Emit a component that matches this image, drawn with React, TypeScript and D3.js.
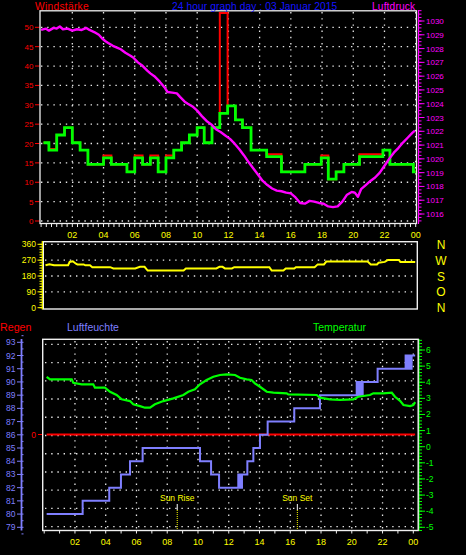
import React from 'react';
import * as d3 from 'd3';

const W = 466, H = 555;
const FONT = '"Liberation Sans", Arial, sans-serif';

// ---------- tick labels ----------
const hourTicks = [2, 4, 6, 8, 10, 12, 14, 16, 18, 20, 22, 24];
const hourLabels = ['02', '04', '06', '08', '10', '12', '14', '16', '18', '20', '22', '00'];
const windTicks = [0, 5, 10, 15, 20, 25, 30, 35, 40, 45, 50];
const pressTicks = [1016, 1017, 1018, 1019, 1020, 1021, 1022, 1023, 1024, 1025, 1026, 1027, 1028, 1029, 1030];
const dirTicks = [0, 90, 180, 270, 360];
const dirLetters = ['N', 'O', 'S', 'W', 'N'];
const humTicks = [79, 80, 81, 82, 83, 84, 85, 86, 87, 88, 89, 90, 91, 92, 93];
const tempTicks = [-5, -4, -3, -2, -1, 0, 1, 2, 3, 4, 5, 6];

// ---------- wind speed / gust (step series) ----------
const windTimes = [0.15, 0.5, 1.0, 1.5, 2.0, 2.5, 3.0, 4.0, 4.5, 5.5, 6.0, 6.5, 7.0, 7.5, 8.0, 8.5, 9.0, 9.5, 10.0, 10.45, 10.95, 11.45, 11.95, 12.45, 12.9, 13.45, 14.45, 15.4, 16.9, 17.95, 18.4, 18.9, 19.4, 20.4, 21.9, 22.35, 23.85, 24.0];
const windValues = [20.2, 18.3, 22.2, 24.1, 20.2, 18.3, 14.6, 16.3, 14.6, 12.7, 16.3, 14.6, 16.3, 12.7, 16.3, 18.3, 20.2, 22.2, 24.1, 20.2, 24.1, 27.8, 29.7, 26.1, 24.1, 18.3, 16.6, 12.7, 14.6, 16.3, 10.8, 12.7, 14.6, 16.6, 18.3, 14.6, 12.7, 12.7];
const gustValues = [20.2, 18.6, 22.2, 24.1, 20.2, 18.3, 14.6, 16.9, 14.6, 12.7, 16.9, 14.6, 16.9, 12.7, 16.9, 18.3, 20.2, 22.2, 24.1, 20.2, 24.1, 53.7, 29.7, 26.1, 24.1, 18.3, 17.2, 12.7, 14.6, 16.9, 10.8, 12.7, 14.6, 17.2, 18.3, 14.6, 12.7, 12.7];

// ---------- pressure ----------
const pressHours = [0.0, 0.3, 0.5, 0.8, 1.0, 1.2, 1.4, 1.7, 2.0, 2.3, 2.6, 2.9, 3.1, 3.4, 3.7, 3.9, 4.1, 4.3, 4.6, 4.9, 5.1, 5.4, 5.7, 5.9, 6.2, 6.5, 6.8, 7.0, 7.3, 7.6, 7.9, 8.1, 8.4, 8.7, 8.9, 9.2, 9.4, 9.7, 10.0, 10.3, 10.6, 10.9, 11.2, 11.5, 11.8, 12.1, 12.4, 12.7, 13.0, 13.3, 13.6, 13.9, 14.2, 14.5, 14.8, 15.1, 15.4, 15.7, 16.0, 16.3, 16.6, 16.9, 17.2, 17.5, 17.8, 18.1, 18.4, 18.7, 19.0, 19.3, 19.6, 19.9, 20.1, 20.3, 20.5, 20.8, 21.1, 21.4, 21.7, 22.0, 22.3, 22.6, 22.9, 23.2, 23.5, 23.8, 23.95];
const pressValues = [1029.35, 1029.45, 1029.3, 1029.5, 1029.45, 1029.6, 1029.4, 1029.45, 1029.3, 1029.4, 1029.35, 1029.5, 1029.35, 1029.2, 1029.0, 1028.75, 1028.55, 1028.4, 1028.2, 1028.05, 1027.95, 1027.7, 1027.5, 1027.35, 1027.0, 1026.75, 1026.4, 1026.2, 1025.95, 1025.6, 1025.2, 1024.85, 1024.8, 1024.75, 1024.5, 1024.15, 1024.0, 1023.8, 1023.5, 1023.1, 1022.75, 1022.5, 1022.15, 1021.95, 1021.7, 1021.45, 1021.1, 1020.7, 1020.25, 1019.75, 1019.3, 1018.85, 1018.4, 1018.1, 1017.85, 1017.7, 1017.65, 1017.55, 1017.5, 1017.2, 1016.8, 1016.75, 1016.95, 1016.9, 1016.8, 1016.75, 1016.55, 1016.5, 1016.55, 1016.9, 1017.4, 1017.6, 1017.55, 1017.25, 1017.8, 1018.1, 1018.4, 1018.65, 1019.0, 1019.5, 1020.0, 1020.45, 1020.8, 1021.2, 1021.55, 1021.9, 1022.05];

// ---------- wind direction ----------
const dirHours = [0.25, 0.5, 0.8, 1.7, 1.8, 2.0, 2.2, 2.3, 2.7, 2.8, 3.1, 3.25, 4.4, 4.6, 6.0, 6.3, 6.6, 6.8, 9.1, 9.25, 11.2, 11.4, 11.6, 11.75, 12.2, 12.35, 14.6, 14.75, 15.5, 15.65, 16.2, 16.3, 17.5, 17.7, 18.1, 18.25, 20.9, 21.1, 21.5, 21.6, 22.0, 22.2, 22.9, 23.0, 23.95];
const dirValues = [241, 246, 241, 241, 260, 264, 250, 246, 246, 241, 241, 230, 230, 223, 223, 232, 232, 211, 211, 223, 223, 232, 232, 223, 223, 230, 230, 211, 211, 223, 223, 230, 230, 246, 246, 262, 262, 246, 246, 255, 260, 271, 271, 260, 260];

// ---------- humidity (step) ----------
const humHours = [0.16, 2.5, 4.23, 4.99, 5.58, 6.4, 10.13, 10.85, 11.37, 12.62, 12.66, 12.7, 12.74, 12.78, 12.82, 12.86, 12.88, 13.21, 13.6, 14.03, 14.53, 16.26, 17.93, 20.32, 20.36, 20.4, 20.44, 20.48, 20.52, 20.56, 20.6, 20.64, 20.68, 20.71, 21.68, 23.5, 23.54, 23.58, 23.62, 23.66, 23.7, 23.74, 23.78, 23.82, 23.86, 23.89, 24.12];
const humValues = [80, 81, 82, 83, 84, 85, 84, 83, 82, 83, 82, 83, 82, 83, 82, 83, 83, 84, 85, 86, 87, 88, 89, 90, 89, 90, 89, 90, 89, 90, 89, 90, 89, 90, 91, 92, 91, 92, 91, 92, 91, 92, 91, 92, 91, 92, 92];

// ---------- temperature ----------
const tempHours = [0.16, 0.38, 1.79, 1.89, 2.44, 3.19, 3.3, 3.95, 4.28, 4.71, 5.04, 5.58, 5.79, 6.23, 6.55, 6.88, 7.2, 7.75, 8.4, 9.05, 9.37, 9.8, 10.13, 10.56, 11.0, 11.43, 11.86, 12.41, 12.73, 13.16, 13.48, 13.7, 14.03, 14.47, 14.9, 15.77, 15.87, 17.72, 17.93, 18.58, 19.23, 20.1, 20.42, 21.18, 21.4, 22.05, 22.6, 22.81, 23.14, 23.36, 23.79, 24.0, 24.12];
const tempValues = [4.34, 4.18, 4.18, 3.97, 3.87, 3.87, 3.66, 3.66, 3.41, 3.21, 2.94, 2.83, 2.63, 2.52, 2.42, 2.42, 2.63, 2.83, 3.0, 3.21, 3.41, 3.56, 3.87, 4.14, 4.34, 4.45, 4.49, 4.45, 4.28, 4.18, 4.14, 3.93, 3.72, 3.41, 3.35, 3.31, 3.25, 3.21, 3.04, 2.94, 2.9, 2.94, 3.1, 3.21, 3.31, 3.31, 3.35, 3.1, 2.85, 2.59, 2.52, 2.59, 2.77];

// ---------- rain ----------
const rainHours = [0.16, 24.12];
const rainValues = [0, 0];

// ---------- sun ----------
const sunLabels = ['Sun Rise', 'Sun Set'];
const sunHours = [8.65, 16.46];

export default function App() {
  // scales
  const xTop = d3.scaleLinear().domain([0, 24]).range([41.1, 415.7]);
  const xMid = d3.scaleLinear().domain([0, 24]).range([41.6, 416]);
  const xBot = d3.scaleLinear().domain([0, 24]).range([44.2, 413.3]);
  const yWind = d3.scaleLinear().domain([0, 50]).range([221, 27.3]);
  const yPress = d3.scaleLinear().domain([1016, 1030]).range([214, 21]);
  const yDir = d3.scaleLinear().domain([0, 360]).range([307.7, 244.3]);
  const yHum = d3.scaleLinear().domain([79, 93]).range([527.3, 342.3]);
  const yTemp = d3.scaleLinear().domain([-5, 6]).range([527.3, 350]);
  const yRain = d3.scaleLinear().domain([0, 1]).range([434.5, 344]);
  const yBotGrid = d3.scaleLinear().domain([0, 10]).range([526.7, 344.3]);

  const stepLine = (xs: number[], ys: number[], sx: any, sy: any) =>
    d3.line<number>().x((_, i) => sx(xs[i])).y((_, i) => sy(ys[i])).curve(d3.curveStepAfter)(ys) || '';
  const plainLine = (xs: number[], ys: number[], sx: any, sy: any) =>
    d3.line<number>().x((_, i) => sx(xs[i])).y((_, i) => sy(ys[i]))(ys) || '';

  const dot = { stroke: '#e6e6e6', strokeWidth: 1.3, strokeDasharray: '1.4 4.8' };

  const minor = (a: number, b: number, s: number) => d3.range(a, b + 1e-9, s);

  return (
    <svg width={W} height={H} style={{ position: 'fixed', left: 0, top: 0, display: 'block' }} fontFamily={FONT}>
      <rect x={0} y={0} width={W} height={H} fill="#000" />

      {/* ================= TOP CHART ================= */}
      {windTicks.map(v => (
        <line key={'hg' + v} x1={41} x2={415} y1={yWind(v)} y2={yWind(v)} {...dot} />
      ))}
      {hourTicks.map(h => (
        <line key={'vg' + h} x1={xTop(h)} x2={xTop(h)} y1={12} y2={222} {...dot} />
      ))}

      {windTicks.map(v => (
        <g key={'wl' + v}>
          <line x1={35} x2={39.5} y1={yWind(v)} y2={yWind(v)} stroke="#ff0000" strokeWidth={1} />
          <text x={33.5} y={yWind(v) + 3} fontSize={8} fill="#ff0000" textAnchor="end">{v}</text>
        </g>
      ))}

      <line x1={418.5} x2={418.5} y1={10} y2={224} stroke="#ff00ff" strokeWidth={1.2} />
      {minor(1015.5, 1030.75, 0.25).map(v => (
        <line key={'pm' + v} x1={418.5} x2={421.5} y1={yPress(v)} y2={yPress(v)} stroke="#ff00ff" strokeWidth={1} />
      ))}
      {pressTicks.map(v => (
        <g key={'pl' + v}>
          <line x1={418.5} x2={424.5} y1={yPress(v)} y2={yPress(v)} stroke="#ff00ff" strokeWidth={1} />
          <text x={426} y={yPress(v) + 3} fontSize={8} fill="#ff00ff">{v}</text>
        </g>
      ))}

      <rect x={40} y={10.8} width={376.5} height={212.7} fill="none" stroke="#f0f0f0" strokeWidth={1.3} />
      {minor(0, 24, 1 / 3).map(h => (
        <line key={'xt' + h} x1={xTop(h)} x2={xTop(h)} y1={223.5} y2={227} stroke="#f0f0f0" strokeWidth={1} />
      ))}
      {hourTicks.map((h, i) => (
        <text key={'xl' + h} x={xTop(h)} y={237.8} fontSize={9} fill="#ffff00" textAnchor="middle">{hourLabels[i]}</text>
      ))}

      <text x={35} y={9.5} fontSize={10.2} letterSpacing={0.3} fill="#ff0000">Windstärke</text>
      <text x={172} y={9.5} fontSize={10.2} letterSpacing={0.1} fill="#1414ff">24 hour graph day : 03 Januar 2015</text>
      <text x={372} y={9.5} fontSize={10.2} letterSpacing={0.15} fill="#ff00ff">Luftdruck</text>

      <path d={stepLine(windTimes, gustValues, xTop, yWind)} fill="none" stroke="#ff0000" strokeWidth={2} />
      <path d={stepLine(windTimes, windValues, xTop, yWind)} fill="none" stroke="#00ff00" strokeWidth={2.8} />
      <path d={plainLine(pressHours, pressValues, xTop, yPress)} fill="none" stroke="#ff00ff" strokeWidth={2.4} strokeLinejoin="round" />

      {/* ================= MIDDLE CHART ================= */}
      {dirTicks.slice(1).map(v => (
        <line key={'dg' + v} x1={45} x2={415} y1={yDir(v)} y2={yDir(v)} {...dot} />
      ))}
      <rect x={43.3} y={241.7} width={374} height={67.3} fill="none" stroke="#f0f0f0" strokeWidth={1.4} />
      <line x1={42.3} x2={42.3} y1={241} y2={309.5} stroke="#ffff00" strokeWidth={1.2} />
      {minor(0, 360, 15).map(v => (
        <line key={'dm' + v} x1={39.5} x2={42.3} y1={yDir(v)} y2={yDir(v)} stroke="#ffff00" strokeWidth={1} />
      ))}
      {dirTicks.map(v => (
        <g key={'dl' + v}>
          <line x1={37.5} x2={42.3} y1={yDir(v)} y2={yDir(v)} stroke="#ffff00" strokeWidth={1} />
          <text x={36} y={yDir(v) + 3} fontSize={8.5} fill="#ffff00" textAnchor="end">{v}</text>
        </g>
      ))}
      {dirTicks.map((v, i) => (
        <text key={'dn' + v} x={441} y={yDir(v) + 4.5} fontSize={12} fill="#ffff00" textAnchor="middle">{dirLetters[i]}</text>
      ))}
      <path d={plainLine(dirHours, dirValues, xMid, yDir)} fill="none" stroke="#ffff00" strokeWidth={2} />

      {/* ================= BOTTOM CHART ================= */}
      <text x={0} y={331} fontSize={10.7} fill="#ff0000">Regen</text>
      <text x={67} y={331} fontSize={10.5} fill="#7f7fff">Luftfeuchte</text>
      <text x={313} y={331} fontSize={10.5} fill="#00ff00">Temperatur</text>

      {d3.range(0, 11).map(i => (
        <line key={'bg' + i} x1={45} x2={416} y1={yBotGrid(i)} y2={yBotGrid(i)} {...dot} />
      ))}
      {hourTicks.map(h => (
        <line key={'bv' + h} x1={xBot(h)} x2={xBot(h)} y1={341} y2={529} {...dot} />
      ))}

      <line x1={21.5} x2={21.5} y1={339} y2={530.5} stroke="#7f7fff" strokeWidth={1.8} />
      {minor(78.5, 93.5, 0.5).map(v => (
        <line key={'hm' + v} x1={21.5} x2={23.5} y1={yHum(v)} y2={yHum(v)} stroke="#7f7fff" strokeWidth={1} />
      ))}
      {humTicks.map(v => (
        <g key={'hl' + v}>
          <line x1={17} x2={21.5} y1={yHum(v)} y2={yHum(v)} stroke="#7f7fff" strokeWidth={1} />
          <text x={15.5} y={yHum(v) + 3} fontSize={8.5} fill="#7f7fff" textAnchor="end">{v}</text>
        </g>
      ))}

      <line x1={38} x2={42.5} y1={yRain(0)} y2={yRain(0)} stroke="#ff0000" strokeWidth={1} />
      <text x={36} y={yRain(0) + 3} fontSize={8.5} fill="#ff0000" textAnchor="end">0</text>

      <line x1={419} x2={419} y1={339} y2={530.5} stroke="#00ff00" strokeWidth={1.2} />
      {minor(-5.2, 6.6, 0.2).map(v => (
        <line key={'tm' + v} x1={419} x2={422} y1={yTemp(v)} y2={yTemp(v)} stroke="#00ff00" strokeWidth={1} />
      ))}
      {tempTicks.map(v => (
        <g key={'tl' + v}>
          <line x1={419} x2={425} y1={yTemp(v)} y2={yTemp(v)} stroke="#00ff00" strokeWidth={1} />
          <text x={426} y={yTemp(v) + 3} fontSize={8.5} fill="#00ff00">{v}</text>
        </g>
      ))}

      <rect x={42.7} y={339.3} width={375.5} height={191.2} fill="none" stroke="#f0f0f0" strokeWidth={1.4} />
      {minor(0, 24, 1).map(h => (
        <line key={'bt' + h} x1={xBot(h)} x2={xBot(h)} y1={530.5} y2={533.5} stroke="#f0f0f0" strokeWidth={1} />
      ))}
      {hourTicks.map((h, i) => (
        <text key={'bl' + h} x={xBot(h)} y={544.5} fontSize={9} fill="#ffff00" textAnchor="middle">{hourLabels[i]}</text>
      ))}

      {sunHours.map((h, i) => (
        <g key={'sun' + i}>
          <text x={xBot(h)} y={500.5} fontSize={8.5} fill="#ffff00" textAnchor="middle">{sunLabels[i]}</text>
          <line x1={xBot(h)} x2={xBot(h)} y1={504} y2={510} stroke="#ffffff" strokeWidth={1} />
          <line x1={xBot(h)} x2={xBot(h)} y1={510} y2={530} stroke="#ffff00" strokeWidth={1} strokeDasharray="1 1" />
        </g>
      ))}

      <path d={plainLine(rainHours, rainValues, xBot, yRain)} fill="none" stroke="#ff0000" strokeWidth={2} />
      <path d={stepLine(humHours, humValues, xBot, yHum)} fill="none" stroke="#7f7fff" strokeWidth={2} />
      <path d={plainLine(tempHours, tempValues, xBot, yTemp)} fill="none" stroke="#00ff00" strokeWidth={2.2} />
    </svg>
  );
}
